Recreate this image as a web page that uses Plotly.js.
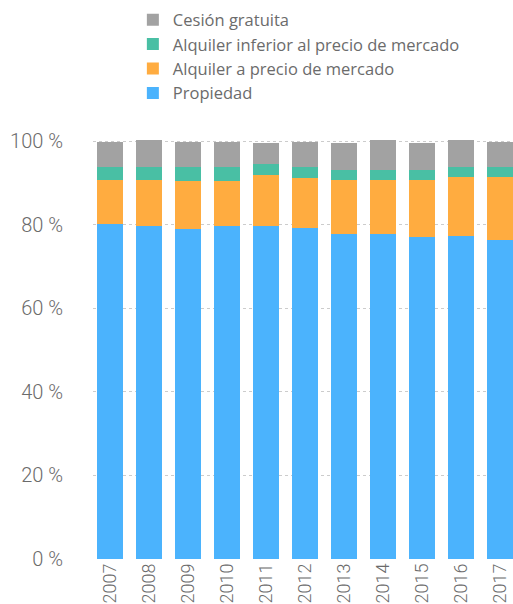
<!DOCTYPE html>
<html>
<head>
<meta charset="utf-8">
<script src="https://cdn.plot.ly/plotly-3.0.1.min.js"></script>
<style>
  html, body { margin: 0; padding: 0; background: #fff; overflow: hidden; }
  #chart { width: 513px; height: 604px; }
</style>
</head>
<body>
<div id="chart"></div>
<script>
// Data (percent of households by tenure)
const years = ['2007', '2008', '2009', '2010', '2011', '2012', '2013', '2014', '2015', '2016', '2017'];
const propiedad = [80.3, 79.8, 79.0, 79.8, 79.8, 79.2, 77.9, 77.9, 77.2, 77.3, 76.5];
const alquilerMercado = [10.4, 10.9, 11.5, 10.8, 12.2, 12.1, 12.8, 12.8, 13.5, 14.1, 14.9];
const alquilerInferior = [3.1, 3.1, 3.3, 3.2, 2.5, 2.5, 2.5, 2.5, 2.5, 2.4, 2.4];
const cesion = [6.0, 6.5, 6.0, 6.0, 5.0, 6.0, 6.3, 7.1, 6.3, 6.5, 6.0];
const yTicks = [0, 20, 40, 60, 80, 100];
const yTickText = ['0 %', '20 %', '40 %', '60 %', '80 %', '100 %'];

const FONT = 'Roboto, "Liberation Sans Narrow", sans-serif';
const LEGEND_FONT = '"Open Sans", Roboto, sans-serif';
const GREY_TXT = '#6b6b6b';

function makeTrace(name, values, color) {
    return {
        type: 'bar',
        name: name,
        x: years,
        y: values,
        width: 0.65,
        marker: { color: color, line: { width: 0 } },
        hoverinfo: 'skip'
    };
}

const traces = [
    makeTrace('Propiedad', propiedad, '#4bb3fd'),
    makeTrace('Alquiler a precio de mercado', alquilerMercado, '#ffac40'),
    makeTrace('Alquiler inferior al precio de mercado', alquilerInferior, '#49bfa4'),
    makeTrace('Cesión gratuita', cesion, '#a2a2a2')
];

const layout = {
    width: 513,
    height: 604,
    barmode: 'stack',
    paper_bgcolor: '#fff',
    plot_bgcolor: '#fff',
    margin: { l: 93, r: 0, t: 133, b: 45, autoexpand: false },
    font: { family: FONT, color: GREY_TXT, size: 16 },
    showlegend: true,
    legend: {
        xref: 'container', x: 0.259, xanchor: 'left',
        yref: 'container', y: 0.996, yanchor: 'top',
        traceorder: 'reversed',
        font: { family: LEGEND_FONT, size: 16.5, color: GREY_TXT },
        itemclick: false,
        tracegroupgap: 0
    },
    xaxis: {
        type: 'category',
        range: [-0.436, 10.333],
        tickangle: -90,
        showgrid: false,
        showline: false,
        zeroline: false,
        ticks: '',
        tickfont: { size: 18, color: GREY_TXT, weight: 300 }
    },
    yaxis: {
        range: [0, 102],
        tickvals: yTicks,
        ticktext: yTickText,
        showgrid: true,
        gridcolor: '#cccccc',
        griddash: 'dot',
        gridwidth: 1,
        zeroline: false,
        showline: false,
        ticks: '',
        ticklabelstandoff: 29,
        tickfont: { size: 20, color: GREY_TXT, weight: 300 }
    }
};

Plotly.newPlot('chart', traces, layout, { displayModeBar: false, staticPlot: true });
</script>
</body>
</html>
